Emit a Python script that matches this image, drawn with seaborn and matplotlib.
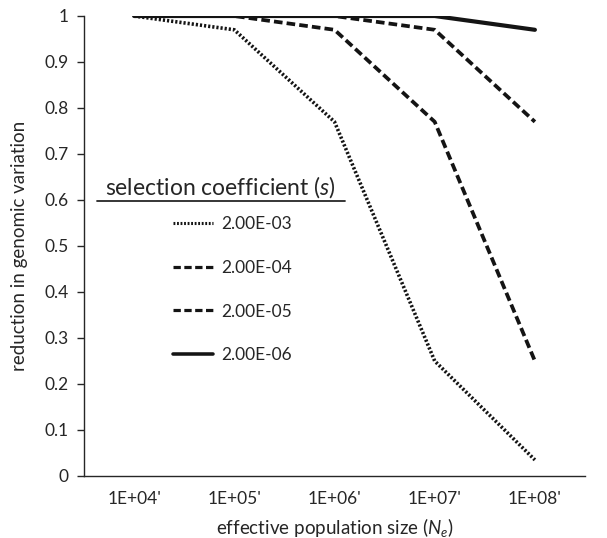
import matplotlib
matplotlib.use("Agg")
import matplotlib.pyplot as plt
import seaborn as sns
import pandas as pd
from matplotlib.lines import Line2D
from matplotlib.ticker import FixedLocator, NullFormatter, FixedFormatter

# ---- data ----
ne_labels = ["1E+04'", "1E+05'", "1E+06'", "1E+07'", "1E+08'"]
s_labels = ["2.00E-03", "2.00E-04", "2.00E-05", "2.00E-06"]
s_2e3 = [1.0, 0.97, 0.77, 0.25, 0.035]
s_2e4 = [1.0, 1.0, 0.97, 0.77, 0.25]
s_2e5 = [1.0, 1.0, 1.0, 0.97, 0.77]
s_2e6 = [1.0, 1.0, 1.0, 1.0, 0.97]
series = [s_2e3, s_2e4, s_2e5, s_2e6]
y_ticks = [0, 0.1, 0.2, 0.3, 0.4, 0.5, 0.6, 0.7, 0.8, 0.9, 1]
y_tick_labels = ["0", "0.1", "0.2", "0.3", "0.4", "0.5", "0.6", "0.7", "0.8", "0.9", "1"]

sns.set_theme(style="white")
FONT = "Lato"
plt.rcParams["font.family"] = [FONT, "DejaVu Sans"]
plt.rcParams["mathtext.fontset"] = "custom"
plt.rcParams["mathtext.rm"] = FONT
plt.rcParams["mathtext.it"] = FONT + ":italic"

TXT = "#262626"
LC = "#141414"

fig = plt.figure(figsize=(6.07, 5.38), dpi=100)
ax = fig.add_axes([84 / 607, 1 - 476 / 538, 501 / 607, 460 / 538])

styles = [
    dict(linestyle=(0, (0.6, 0.55)), linewidth=2.6),
    dict(linestyle=(0, (2.3, 1.1)), linewidth=2.7),
    dict(linestyle=(0, (2.3, 1.1)), linewidth=2.7),
    dict(linestyle="-", linewidth=3.0),
]

xpos = list(range(len(ne_labels)))
handles = []
for vals, lab, st in zip(series, s_labels, styles):
    df = pd.DataFrame({"x": xpos, "v": vals})
    sns.lineplot(data=df, x="x", y="v", ax=ax, color=LC, legend=False,
                 dash_capstyle="butt", **st)
    hst = dict(st)
    hst["linewidth"] = st["linewidth"] * 0.85
    handles.append(Line2D([], [], color=LC, dash_capstyle="butt", **hst))

ax.set_xlim(-0.5, len(ne_labels) - 0.5)
ax.set_ylim(0, 1)
ax.xaxis.set_major_locator(FixedLocator([i - 0.5 for i in range(len(ne_labels) + 1)]))
ax.xaxis.set_major_formatter(NullFormatter())
ax.xaxis.set_minor_locator(FixedLocator(xpos))
ax.xaxis.set_minor_formatter(FixedFormatter(ne_labels))
ax.tick_params(axis="x", which="major", direction="inout", length=8, width=1, color=TXT)
ax.tick_params(axis="x", which="minor", length=0, pad=11, labelsize=12.5, labelcolor=TXT)
ax.set_yticks(y_ticks)
ax.set_yticklabels(y_tick_labels)
ax.tick_params(axis="y", direction="out", length=5, width=1, color=TXT, labelsize=12.5,
               labelcolor=TXT, pad=6, left=True)

for sp in ["top", "right"]:
    ax.spines[sp].set_visible(False)
for sp in ["left", "bottom"]:
    ax.spines[sp].set_color(TXT)
    ax.spines[sp].set_linewidth(1.0)

ax.set_xlabel("effective population size ($N_e$)", fontsize=13.5, color=TXT, labelpad=6)
ax.set_ylabel("reduction in genomic variation", fontsize=13.5, color=TXT, labelpad=12)

# legend title + underline
ax.text((220 - 84) / 501, (476 - 187) / 460, "selection coefficient ($s$)",
        transform=ax.transAxes, ha="center", va="center", fontsize=16.5, color=TXT)
ax.add_line(Line2D([(97 - 84) / 501, (345 - 84) / 501], [(476 - 201) / 460] * 2,
                   transform=ax.transAxes, color=TXT, linewidth=1.3))

leg = ax.legend(handles, s_labels, loc="upper left",
                bbox_to_anchor=((173 - 84) / 501, (476 - 216) / 460),
                frameon=False, fontsize=12.5, handlelength=2.3, handletextpad=0.5,
                labelspacing=1.6, borderpad=0, borderaxespad=0)
for t in leg.get_texts():
    t.set_color(TXT)

fig.savefig("out.png", dpi=100)
